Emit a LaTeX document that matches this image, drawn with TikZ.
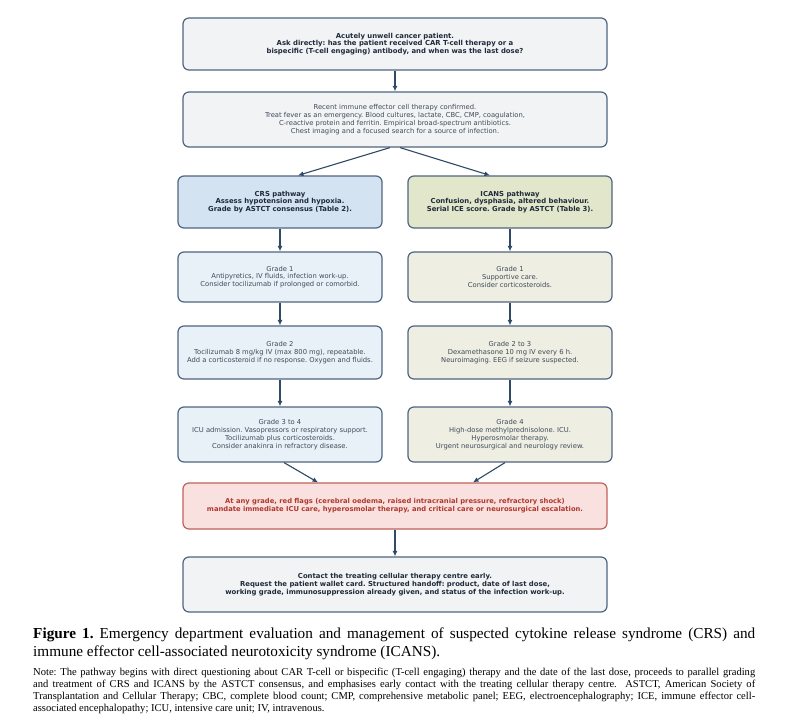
\documentclass[tikz,border=0pt]{standalone}
\usepackage{fontspec}
\setmainfont{DejaVu Sans}
\newfontfamily\capfont{Liberation Serif}
\usetikzlibrary{arrows.meta,positioning,calc}
\frenchspacing
\definecolor{EdgeC}{HTML}{4F6580}
\definecolor{InkC}{HTML}{1F2B3A}
\definecolor{SoftInk}{HTML}{3E4A58}
\definecolor{NeutralF}{HTML}{F1F3F5}
\definecolor{CrsF}{HTML}{D3E3F1}
\definecolor{CrsLite}{HTML}{E8F0F8}
\definecolor{IcansF}{HTML}{E2E6CB}
\definecolor{IcansLite}{HTML}{EEEEE3}
\definecolor{FlagF}{HTML}{F8E1DE}
\definecolor{FlagE}{HTML}{C2625C}
\definecolor{FlagT}{HTML}{B0382E}
\definecolor{ArrowC}{HTML}{2E4A66}

\tikzset{
  flowbox/.style={draw=EdgeC, line width=1.2bp, rounded corners=6bp,
    align=center, inner sep=0pt, text=SoftInk,
    font=\fontsize{6.8}{7.8}\selectfont},
  widebox/.style={flowbox, minimum width=424bp},
  sidebox/.style={flowbox, minimum width=204bp},
  headtext/.style={text=InkC, font=\fontsize{6.9}{7.8}\selectfont\bfseries},
  flow/.style={draw=ArrowC, line width=1.1bp, -{Latex[length=5.5bp,width=5bp]}}
}

\begin{document}
\begin{tikzpicture}[x=1bp, y=-1bp]
  \useasboundingbox[fill=white] (0,0) rectangle (790,726);

  % top of the pathway
  \node[widebox, headtext, fill=NeutralF, minimum height=52bp] (ask) at (395,44) {%
    Acutely unwell cancer patient.\\
    Ask directly: has the patient received CAR T-cell therapy or a\\
    bispecific (T-cell engaging) antibody, and when was the last dose?};
  \node[widebox, fill=NeutralF, minimum height=55bp] (confirm) at (395,119.5) {%
    Recent immune effector cell therapy confirmed.\\
    Treat fever as an emergency. Blood cultures, lactate, CBC, CMP, coagulation,\\
    C-reactive protein and ferritin. Empirical broad-spectrum antibiotics.\\
    Chest imaging and a focused search for a source of infection.};

  % CRS column
  \node[sidebox, headtext, fill=CrsF, minimum height=52bp] (crs) at (280,202) {%
    CRS pathway\\
    Assess hypotension and hypoxia.\\
    Grade by ASTCT consensus (Table 2).};
  \node[sidebox, fill=CrsLite, minimum height=50bp] (crsOne) at (280,277) {%
    Grade 1\\
    Antipyretics, IV fluids, infection work-up.\\
    Consider tocilizumab if prolonged or comorbid.};
  \node[sidebox, fill=CrsLite, minimum height=53bp] (crsTwo) at (280,352.5) {%
    Grade 2\\
    Tocilizumab 8 mg/kg IV (max 800 mg), repeatable.\\
    Add a corticosteroid if no response. Oxygen and fluids.};
  \node[sidebox, fill=CrsLite, minimum height=55bp] (crsThree) at (280,434.5) {%
    Grade 3 to 4\\
    ICU admission. Vasopressors or respiratory support.\\
    Tocilizumab plus corticosteroids.\\
    Consider anakinra in refractory disease.};

  % ICANS column
  \node[sidebox, headtext, fill=IcansF, minimum height=52bp] (icans) at (510,202) {%
    ICANS pathway\\
    Confusion, dysphasia, altered behaviour.\\
    Serial ICE score. Grade by ASTCT (Table 3).};
  \node[sidebox, fill=IcansLite, minimum height=50bp] (icansOne) at (510,277) {%
    Grade 1\\
    Supportive care.\\
    Consider corticosteroids.};
  \node[sidebox, fill=IcansLite, minimum height=53bp] (icansTwo) at (510,352.5) {%
    Grade 2 to 3\\
    Dexamethasone 10 mg IV every 6 h.\\
    Neuroimaging. EEG if seizure suspected.};
  \node[sidebox, fill=IcansLite, minimum height=55bp] (icansThree) at (510,434.5) {%
    Grade 4\\
    High-dose methylprednisolone. ICU.\\
    Hyperosmolar therapy.\\
    Urgent neurosurgical and neurology review.};

  % escalation and handoff
  \node[widebox, draw=FlagE, fill=FlagF, minimum height=46bp,
        font=\fontsize{6.8}{7.8}\selectfont\bfseries, text=FlagT] (flags) at (395,506) {%
    At any grade, red flags (cerebral oedema, raised intracranial pressure, refractory shock)\\
    mandate immediate ICU care, hyperosmolar therapy, and critical care or neurosurgical escalation.};
  \node[widebox, headtext, fill=NeutralF, minimum height=55bp] (contact) at (395,584.5) {%
    Contact the treating cellular therapy centre early.\\
    Request the patient wallet card. Structured handoff: product, date of last dose,\\
    working grade, immunosuppression already given, and status of the infection work-up.};

  % connectors
  \draw[flow] (ask) -- (confirm);
  \draw[flow] ($(confirm.south)+(-5,0)$) -- ($(crs.north)+(18,0)$);
  \draw[flow] ($(confirm.south)+(5,0)$) -- ($(icans.north)+(-20,0)$);
  \draw[flow] (crs) -- (crsOne);
  \draw[flow] (crsOne) -- (crsTwo);
  \draw[flow] (crsTwo) -- (crsThree);
  \draw[flow] (icans) -- (icansOne);
  \draw[flow] (icansOne) -- (icansTwo);
  \draw[flow] (icansTwo) -- (icansThree);
  \draw[flow] ($(crsThree.south)+(4,0)$) -- ($(flags.north)+(-77,0)$);
  \draw[flow] ($(icansThree.south)+(-5,0)$) -- ($(flags.north)+(78,0)$);
  \draw[flow] (flags) -- (contact);

  % caption and note
  \node[anchor=north west, inner sep=0pt, text width=722bp, align=justify,
        font=\capfont\fontsize{15.3}{18}\selectfont] (caption) at (33,628) {%
    \textbf{Figure 1.} Emergency department evaluation and management of suspected cytokine release syndrome (CRS) and\linebreak
    immune effector cell-associated neurotoxicity syndrome (ICANS).};
  \node[anchor=north west, inner sep=0pt, text width=722bp, align=justify,
        font=\capfont\fontsize{10.6}{12}\selectfont] (note) at (33,668) {%
    Note: The pathway begins with direct questioning about CAR T-cell or bispecific (T-cell engaging) therapy and the date of the last dose, proceeds to parallel grading\linebreak
    and treatment of CRS and ICANS by the ASTCT consensus, and emphasises early contact with the treating cellular therapy centre.\ \ ASTCT, American Society of\linebreak
    Transplantation and Cellular Therapy; CBC, complete blood count; CMP, comprehensive metabolic panel; EEG, electroencephalography; ICE, immune effector cell-\linebreak
    associated encephalopathy; ICU, intensive care unit; IV, intravenous.};
\end{tikzpicture}
\end{document}
